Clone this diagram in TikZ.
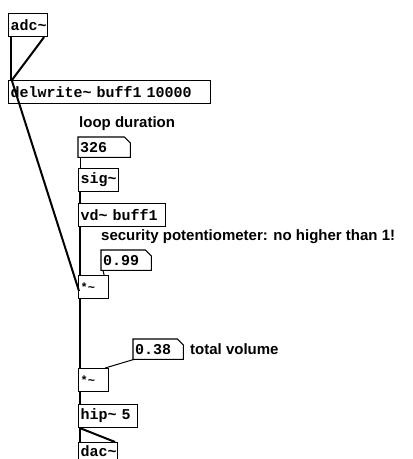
\documentclass[tikz,border=0pt]{standalone}
\usepackage{fontspec}
\setmainfont{Liberation Sans}
\setmonofont{Liberation Mono}
\usetikzlibrary{calc}
\begin{document}
\begin{tikzpicture}[x=1pt,y=-1pt,
  obj/.style={draw, line width=1.1pt, anchor=north west, inner xsep=2pt, inner ysep=0pt,
    minimum height=23pt, font=\fontsize{15}{15}\ttfamily\bfseries, align=left},
  numbox/.style={anchor=north west, inner xsep=2pt, inner ysep=0pt,
    minimum height=20pt, font=\fontsize{15}{15}\ttfamily\bfseries, align=left},
  fold/.style={line width=1.1pt},
  comment/.style={anchor=west, inner sep=0pt, font=\fontsize{15}{15}\selectfont\bfseries},
  sigwire/.style={line width=2pt},
  ctlwire/.style={line width=1pt}
]
\useasboundingbox (0,0) rectangle (413,459);
\clip (0,0) rectangle (413,459);

% objects
\node[obj, text width=35pt] (adc) at (8,13) {adc\textasciitilde};
\node[obj, text width=198pt] (dw) at (8,80) {delwrite\textasciitilde\ buff1 10000};
\node[comment] (c1) at (79,124) {loop duration};
\node[numbox, text width=48pt] (n326) at (78,137) {326};
\node[obj, text width=36pt] (sig) at (78,168) {sig\textasciitilde};
\node[obj, text width=83pt] (vd) at (78,203) {vd\textasciitilde\ buff1};
\node[comment] (c2) at (101,237) {security potentiometer: no higher than 1!};
\node[numbox, text width=46pt] (n99) at (101,250) {0.99};
\node[obj, text width=26pt, font=\fontsize{12}{12}\ttfamily\bfseries] (m1) at (78,275) {*\textasciitilde};
\node[numbox, text width=46pt] (n38) at (133,339) {0.38};
\node[comment] (c3) at (190,349) {total volume};
\node[obj, text width=26pt, font=\fontsize{12}{12}\ttfamily\bfseries] (m2) at (78,368) {*\textasciitilde};
\node[obj, text width=55pt] (hip) at (78,404) {hip\textasciitilde\ 5};
\node[obj, text width=35pt, minimum height=18pt] (dac) at (78,442) {dac\textasciitilde};

% number box outlines with folded corner
\foreach \n in {n326,n99,n38}{
  \draw[fold] (\n.north west) -- ($(\n.north east)+(-6,0)$) -- ($(\n.north east)+(0,6)$)
    -- (\n.south east) -- (\n.south west) -- cycle;
}

% connections
\draw[sigwire] ($(adc.south west)+(3,0)$) -- ($(dw.north west)+(3,0)$);
\draw[sigwire] ($(adc.south east)+(-4,0)$) -- ($(dw.north west)+(4,0)$);
\draw[sigwire] ($(dw.north west)+(4,1)$) -- ($(m1.north west)+(1,16)$);
\draw[ctlwire] ($(n326.south west)+(2,0)$) -- ($(sig.north west)+(2,0)$);
\draw[sigwire] ($(sig.south west)+(2,0)$) -- ($(vd.north west)+(2,0)$);
\draw[sigwire] ($(vd.south west)+(2,0)$) -- ($(m1.north west)+(2,0)$);
\draw[ctlwire] ($(n99.south west)+(2,0)$) -- ($(m1.north east)+(-5,0)$);
\draw[sigwire] ($(m1.south west)+(2,0)$) -- ($(m2.north west)+(2,0)$);
\draw[ctlwire] ($(n38.south west)+(1,0)$) -- ($(m2.north east)+(-4,0)$);
\draw[sigwire] ($(m2.south west)+(2,0)$) -- ($(hip.north west)+(2,0)$);
\draw[sigwire] ($(hip.south west)+(2,0)$) -- ($(dac.north west)+(2,0)$);
\draw[sigwire] ($(hip.south west)+(2,0)$) -- ($(dac.north east)+(-3,0)$);
\end{tikzpicture}
\end{document}
